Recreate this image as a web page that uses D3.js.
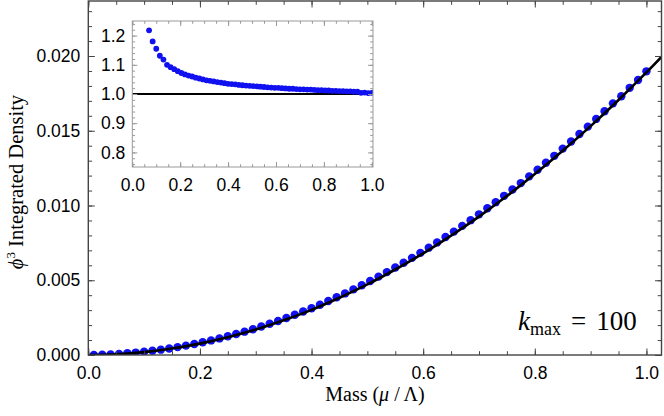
<!DOCTYPE html>
<html>
<head>
<meta charset="utf-8">
<script src="https://cdn.jsdelivr.net/npm/d3@7/dist/d3.min.js"></script>
<style>
  body { margin: 0; background: #fff; }
</style>
</head>
<body>
<script>
// mass values of the lattice points (mu / Lambda)
var massValues = [0.01, 0.025, 0.04, 0.055, 0.07, 0.085, 0.1, 0.115, 0.13, 0.145,
  0.16, 0.175, 0.19, 0.205, 0.22, 0.235, 0.25, 0.265, 0.28, 0.295,
  0.31, 0.325, 0.34, 0.355, 0.37, 0.385, 0.4, 0.415, 0.43, 0.445,
  0.46, 0.475, 0.49, 0.505, 0.52, 0.535, 0.55, 0.565, 0.58, 0.595,
  0.61, 0.625, 0.64, 0.655, 0.67, 0.685, 0.7, 0.715, 0.73, 0.745,
  0.76, 0.775, 0.79, 0.805, 0.82, 0.835, 0.85, 0.865, 0.88, 0.895,
  0.91, 0.925, 0.94, 0.955, 0.97, 0.985, 1.0];

// integrated density, numerical (blue points)
var densityValues = [0.0000047, 0.000019, 0.0000417, 0.0000732, 0.0001128, 0.0001611, 0.0002183, 0.0002827, 0.0003571, 0.0004371,
  0.0005284, 0.000628, 0.0007355, 0.0008515, 0.0009761, 0.0011096, 0.0012521, 0.0014016, 0.0015603, 0.001727,
  0.0019017, 0.0020861, 0.0022788, 0.0024796, 0.0026883, 0.0029052, 0.0031298, 0.0033657, 0.00361, 0.0038587,
  0.0041192, 0.004388, 0.004665, 0.0049501, 0.0052435, 0.0055449, 0.0058545, 0.0061722, 0.0064979, 0.0068316,
  0.0071804, 0.0075305, 0.0078885, 0.0082546, 0.0086369, 0.0090192, 0.0094092, 0.0098168, 0.0102229, 0.0106474,
  0.0110694, 0.0114994, 0.0119488, 0.0123947, 0.0128609, 0.0133226, 0.0138055, 0.0142829, 0.0147826, 0.0152757,
  0.015792, 0.0163007, 0.0168336, 0.0173062, 0.0178719, 0.0183923, 0.0189756];

// ratio numerical / continuum (inset)
var ratioValues = [2.5, 1.61, 1.38, 1.28, 1.218, 1.18, 1.155, 1.131, 1.118, 1.1,
  1.092, 1.085, 1.078, 1.072, 1.067, 1.063, 1.06, 1.056, 1.053, 1.05,
  1.047, 1.045, 1.043, 1.041, 1.039, 1.037, 1.035, 1.034, 1.033, 1.031,
  1.03, 1.029, 1.028, 1.027, 1.026, 1.025, 1.024, 1.023, 1.022, 1.021,
  1.021, 1.02, 1.019, 1.018, 1.018, 1.017, 1.016, 1.016, 1.015, 1.015,
  1.014, 1.013, 1.013, 1.012, 1.012, 1.011, 1.011, 1.01, 1.01, 1.009,
  1.009, 1.008, 1.008, 1.004, 1.005, 1.003, 1.004];

// continuum curve (black line)
var curveMass = [0, 0.05, 0.1, 0.15, 0.2, 0.25, 0.3, 0.35, 0.4, 0.45, 0.5,
  0.55, 0.6, 0.65, 0.7, 0.75, 0.8, 0.85, 0.9, 0.95, 1.0, 1.05];
var curveValues = [0, 0.000047, 0.00019, 0.00043, 0.00076, 0.00118, 0.0017, 0.00232, 0.00302, 0.00383, 0.00472,
  0.00572, 0.0068, 0.00799, 0.00926, 0.01063, 0.0121, 0.01366, 0.01531, 0.01706, 0.0189, 0.02084];

var xTicks = [0, 0.2, 0.4, 0.6, 0.8, 1.0];
var yTicks = [0, 0.005, 0.01, 0.015, 0.02];
var insetYTicks = [0.8, 0.9, 1.0, 1.1, 1.2];

var W = 664, H = 416;
var frame = {left: 88.3, right: 661.5, top: 1, bottom: 355};
var sans = '"Liberation Sans", Arial, sans-serif';
var serif = '"Liberation Serif", "Times New Roman", serif';

var svg = d3.select("body").append("svg")
    .attr("width", W)
    .attr("height", H);

var x = d3.scaleLinear().domain([0, 1.027]).range([frame.left, frame.right]);
var y = d3.scaleLinear().domain([0, 0.02368]).range([frame.bottom, frame.top]);

function minorTicks(lo, hi, step) {
  var out = [];
  for (var v = lo; v <= hi + 1e-9; v += step) out.push(+v.toFixed(6));
  return out;
}

// draws frame + ticks (inward, on all 4 sides)
function drawFrame(g, sx, sy, o) {
  var x0 = sx.range()[0], x1 = sx.range()[1], y0 = sy.range()[0], y1 = sy.range()[1];
  var xMin = minorTicks(Math.ceil(sx.domain()[0] / o.xMinor) * o.xMinor, sx.domain()[1], o.xMinor);
  var yMin = minorTicks(Math.ceil(sy.domain()[0] / o.yMinor) * o.yMinor, sy.domain()[1], o.yMinor);

  var sides = [
    {a: d3.axisBottom, s: sx, t: "translate(0," + y0 + ")", lab: true, vals: o.xTicks, min: xMin, fmt: o.xFmt, pad: o.xPad},
    {a: d3.axisTop, s: sx, t: "translate(0," + y1 + ")", lab: false, vals: o.xTicks, min: xMin},
    {a: d3.axisLeft, s: sy, t: "translate(" + x0 + ",0)", lab: true, vals: o.yTicks, min: yMin, fmt: o.yFmt, pad: o.yPad},
    {a: d3.axisRight, s: sy, t: "translate(" + x1 + ",0)", lab: false, vals: o.yTicks, min: yMin}
  ];
  sides.forEach(function(d) {
    // minor ticks
    g.append("g")
        .attr("transform", d.t)
        .call(d.a(d.s).tickValues(d.min).tickSize(-o.minor).tickFormat(""))
        .call(function(s) { s.select(".domain").remove(); s.selectAll("line").attr("stroke", o.color); });
    // major ticks + labels
    g.append("g")
        .attr("transform", d.t)
        .call(d.a(d.s).tickValues(d.vals).tickSize(-o.major)
          .tickFormat(d.lab ? d.fmt : "").tickPadding(d.lab ? d.pad : 0))
        .call(function(s) {
          s.attr("font-size", o.fontSize).attr("font-family", sans);
          s.select(".domain").remove();
          s.selectAll("line").attr("stroke", o.color);
          s.selectAll("text").attr("fill", "#000");
        });
  });
  g.append("rect")
      .attr("x", x0).attr("y", y1)
      .attr("width", x1 - x0).attr("height", y0 - y1)
      .attr("fill", "none")
      .attr("stroke", o.color)
      .attr("stroke-width", o.frameWidth);
}

// main plot
svg.append("clipPath").attr("id", "clipMain")
  .append("rect")
    .attr("x", frame.left).attr("y", frame.top)
    .attr("width", frame.right - frame.left).attr("height", frame.bottom - frame.top);

var main = svg.append("g");

var line = d3.line()
    .x(function(d) { return x(d[0]); })
    .y(function(d) { return y(d[1]); })
    .curve(d3.curveMonotoneX);

var plot = main.append("g").attr("clip-path", "url(#clipMain)");

plot.selectAll(".pt")
    .data(d3.zip(massValues, densityValues))
  .enter().append("circle")
    .attr("class", "pt")
    .attr("cx", function(d) { return x(d[0]); })
    .attr("cy", function(d) { return y(d[1]); })
    .attr("r", 4.2)
    .attr("fill", "#1010f0");

plot.append("path")
    .datum(d3.zip(curveMass, curveValues))
    .attr("d", line)
    .attr("fill", "none")
    .attr("stroke", "#000")
    .attr("stroke-width", 2.6);

drawFrame(main, x, y, {
  xTicks: xTicks, yTicks: yTicks, xMinor: 0.05, yMinor: 0.001,
  xFmt: d3.format(".1f"), yFmt: d3.format(".3f"),
  xPad: 12, yPad: 8, major: 6.5, minor: 3.8, fontSize: 17.5,
  color: "#444", frameWidth: 1.4
});

// inset
var ix = d3.scaleLinear().domain([0, 1.005]).range([132.3, 373]);
var iy = d3.scaleLinear().domain([0.75, 1.25]).range([167, 21]);

svg.append("rect")
    .attr("x", 132.3).attr("y", 21)
    .attr("width", 373 - 132.3).attr("height", 167 - 21)
    .attr("fill", "#fff");

svg.append("clipPath").attr("id", "clipInset")
  .append("rect")
    .attr("x", 132.3).attr("y", 21)
    .attr("width", 373 - 132.3).attr("height", 167 - 21);

var inset = svg.append("g");
var iplot = inset.append("g").attr("clip-path", "url(#clipInset)");

iplot.append("line")
    .attr("x1", ix(0)).attr("x2", ix(1.005))
    .attr("y1", iy(1)).attr("y2", iy(1))
    .attr("stroke", "#000")
    .attr("stroke-width", 2.2);

iplot.selectAll(".ipt")
    .data(d3.zip(massValues, ratioValues))
  .enter().append("circle")
    .attr("class", "ipt")
    .attr("cx", function(d) { return ix(d[0]); })
    .attr("cy", function(d) { return iy(d[1]); })
    .attr("r", 2.9)
    .attr("fill", "#1010f0");

drawFrame(inset, ix, iy, {
  xTicks: xTicks, yTicks: insetYTicks, xMinor: 0.05, yMinor: 0.02,
  xFmt: d3.format(".1f"), yFmt: d3.format(".1f"),
  xPad: 12, yPad: 7, major: 5, minor: 2.8, fontSize: 17.5,
  color: "#999", frameWidth: 1
});

// axis titles
var xt = svg.append("text")
    .attr("font-family", serif)
    .attr("x", 375).attr("y", 401)
    .attr("text-anchor", "middle")
    .attr("font-size", 20);
xt.append("tspan").text("Mass (");
xt.append("tspan").attr("font-style", "italic").text("\u03bc");
xt.append("tspan").text(" / \u039b)");

var yt = svg.append("text")
    .attr("font-family", serif)
    .attr("transform", "translate(23,182) rotate(-90)")
    .attr("text-anchor", "middle")
    .attr("font-size", 20.5);
yt.append("tspan").attr("font-style", "italic").text("\u03d5");
yt.append("tspan").attr("font-size", 13).attr("dy", -8).text("3");
yt.append("tspan").attr("dy", 8).text(" Integrated Density");

// k_max label
var kl = svg.append("text")
    .attr("font-family", serif)
    .attr("x", 518).attr("y", 330)
    .attr("font-size", 27);
kl.append("tspan").attr("font-style", "italic").text("k");
kl.append("tspan").attr("font-size", 18).attr("dy", 5).text("max");
kl.append("tspan").attr("dy", -5).attr("dx", 10).text("=");
kl.append("tspan").attr("dx", 10).text("100");
</script>
</body>
</html>
